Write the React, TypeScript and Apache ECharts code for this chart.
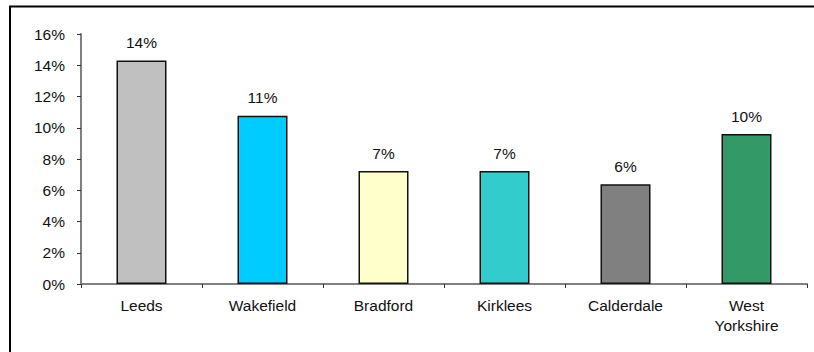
import React, { useEffect, useRef } from "react";
import * as echarts from "echarts";

const categories = ["Leeds", "Wakefield", "Bradford", "Kirklees", "Calderdale", "West\nYorkshire"];
const values = [14.3, 10.77, 7.23, 7.23, 6.38, 9.6];
const barColors = ["#c0c0c0", "#00ccff", "#ffffcc", "#33cccc", "#808080", "#339966"];
const yTicks = { min: 0, max: 16, interval: 2 };

export default function App() {
  const ref = useRef<HTMLDivElement>(null);
  useEffect(() => {
    const chart = echarts.init(ref.current!, null, { renderer: "svg" });
    const font = "'Liberation Sans', Arial, sans-serif";
    const fs = 15.5;
    chart.setOption({
      animation: false,
      backgroundColor: "#ffffff",
      textStyle: { fontFamily: font },
      grid: { left: 81, top: 34, right: 7, bottom: 68 },
      graphic: [
        {
          type: "rect",
          shape: { x: 10, y: 6.5, width: 900, height: 400 },
          style: { fill: "none", stroke: "#000", lineWidth: 2 },
          silent: true,
        },
      ],
      xAxis: {
        type: "category",
        data: categories,
        axisLine: { lineStyle: { color: "#808080", width: 2 } },
        axisTick: { show: true, length: 4, lineStyle: { color: "#333" } },
        axisLabel: {
          color: "#111",
          fontSize: fs,
          fontFamily: font,
          margin: 11,
          lineHeight: 20,
          interval: 0,
        },
      },
      yAxis: {
        type: "value",
        min: yTicks.min,
        max: yTicks.max,
        interval: yTicks.interval,
        splitLine: { show: false },
        axisLine: { show: true, lineStyle: { color: "#808080", width: 2 } },
        axisTick: { show: true, length: 4, lineStyle: { color: "#333" } },
        axisLabel: {
          color: "#111",
          fontSize: fs,
          fontFamily: font,
          margin: 16,
          formatter: (v: number) => v + "%",
        },
      },
      series: [
        {
          type: "bar",
          barWidth: 50,
          data: values.map((v, i) => ({
            value: v,
            itemStyle: { color: barColors[i] },
          })),
          itemStyle: { borderColor: "#111", borderWidth: 1.5 },
          label: {
            show: true,
            position: "top",
            distance: 10,
            color: "#111",
            fontSize: fs,
            fontFamily: font,
            formatter: (p: any) => Math.round(p.value) + "%",
          },
        },
      ],
    });
    return () => chart.dispose();
  }, []);
  return (
    <div
      ref={ref}
      style={{ position: "fixed", left: 0, top: 0, width: 814, height: 352, background: "#fff" }}
    />
  );
}
